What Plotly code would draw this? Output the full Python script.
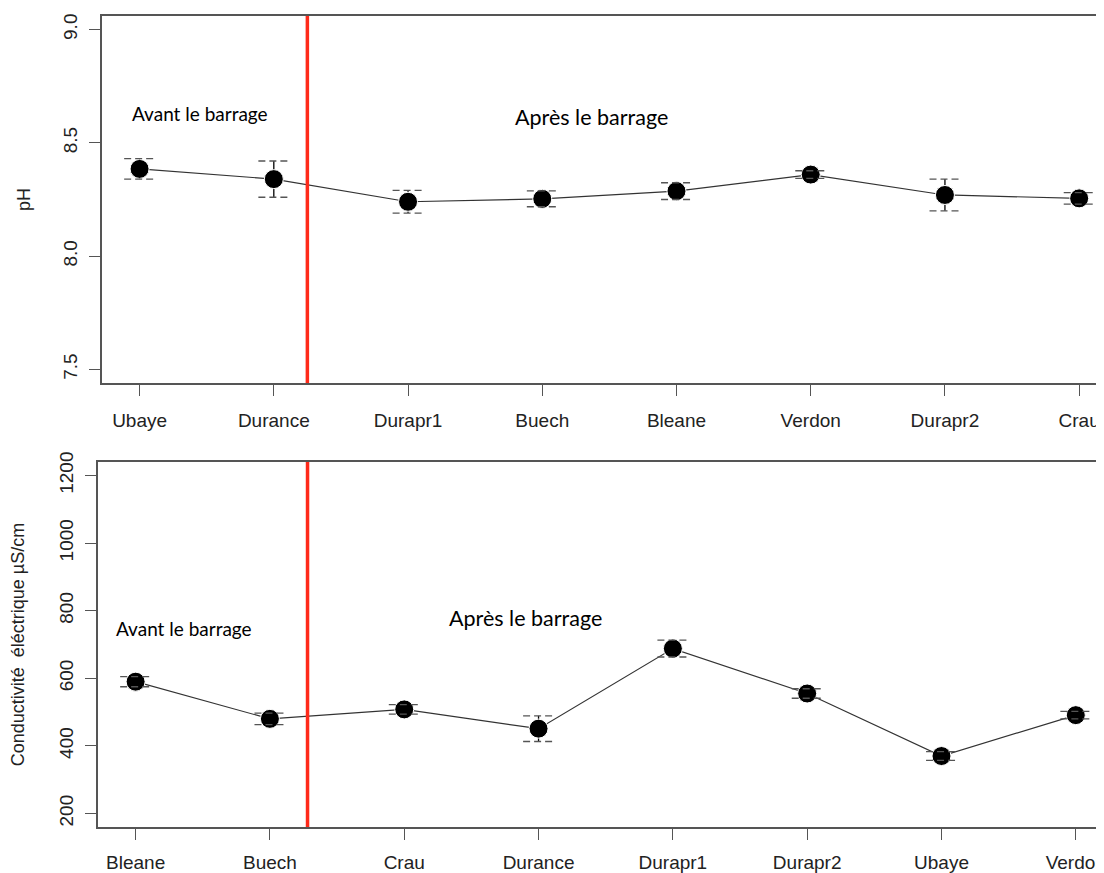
import plotly.graph_objects as go

# ---- data ----
ph_sites = ["Ubaye", "Durance", "Durapr1", "Buech", "Bleane", "Verdon", "Durapr2", "Crau"]
ph_mean = [8.385, 8.34, 8.24, 8.253, 8.287, 8.36, 8.27, 8.255]
ph_err = [0.045, 0.08, 0.05, 0.035, 0.037, 0.017, 0.07, 0.025]

ce_sites = ["Bleane", "Buech", "Crau", "Durance", "Durapr1", "Durapr2", "Ubaye", "Verdon"]
ce_mean = [590, 480, 508, 451, 688, 555, 370, 491]
ce_err = [15, 17, 14, 38, 25, 14, 13, 11]

ph_ticks = [7.5, 8.0, 8.5, 9.0]
ce_ticks = [200, 400, 600, 800, 1000, 1200]

dam_pos_ph = 2.25
dam_pos_ce = 2.28
label_before = "Avant le barrage"
label_after = "Après le barrage"

# page body has an 8px margin: build figure in page coords minus 8
W, H = 1096, 865
OFF = 8

AX = "#555555"
TICKFONT = dict(family="Liberation Sans, Arial", size=19, color="#222")
TITLEFONT = dict(family="Liberation Sans, Arial", size=18, color="#222")

fig = go.Figure()


def add_panel(sites, mean, err, xa, ya):
    xs = list(range(1, len(sites) + 1))
    fig.add_trace(go.Scatter(
        x=xs, y=mean, mode="lines+markers", xaxis=xa, yaxis=ya,
        line=dict(color="#333333", width=1.2),
        marker=dict(color="black", size=19, line=dict(color="white", width=1)),
        error_y=dict(type="data", array=err, visible=True, color="black",
                     thickness=1.3, width=0),
        showlegend=False, hoverinfo="skip"))
    cx, cy = [], []
    hw = 0.115
    for x, m, e in zip(xs, mean, err):
        for v in (m - e, m + e):
            cx += [x - hw, x + hw, None]
            cy += [v, v, None]
    fig.add_trace(go.Scatter(
        x=cx, y=cy, mode="lines", xaxis=xa, yaxis=ya,
        line=dict(color="#555555", width=1.3, dash="7px,4px"),
        showlegend=False, hoverinfo="skip"))


add_panel(ph_sites, ph_mean, ph_err, "x", "y")
add_panel(ce_sites, ce_mean, ce_err, "x2", "y2")


def ydom(top, bottom):
    return [1 - (bottom - OFF) / H, 1 - (top - OFF) / H]


common_x = dict(showline=True, linecolor=AX, linewidth=1.5, mirror=True,
                ticks="outside", ticklen=11, tickcolor=AX, tickwidth=1.3,
                showgrid=False, zeroline=False, tickfont=TICKFONT,
                automargin=False, tickmode="array", ticklabeloverflow="allow",
                tickvals=list(range(1, 9)))
common_y = dict(showline=True, linecolor=AX, linewidth=1.5, tickangle=-90,
                ticks="outside", ticklen=11, tickcolor=AX, tickwidth=1.3,
                showgrid=False, zeroline=False, tickfont=TICKFONT,
                ticklabelstandoff=5, automargin=False, tickmode="array")

fig.update_layout(
    width=W, height=H,
    margin=dict(l=0, r=0, t=0, b=0),
    paper_bgcolor="white", plot_bgcolor="white",
    xaxis=dict(domain=[(102 - OFF) / W, 1], anchor="y", range=[0.72, 8.185],
               ticktext=ph_sites, ticklabelstandoff=8, **common_x),
    yaxis=dict(domain=ydom(16, 383), anchor="x", range=[7.44, 9.06],
               tickvals=ph_ticks, ticktext=["7.5", "8.0", "8.5", "9.0"],
               title=dict(text="pH", font=TITLEFONT, standoff=24), **common_y),
    xaxis2=dict(domain=[(98 - OFF) / W, 1], anchor="y2", range=[0.72, 8.21],
                ticktext=ce_sites, ticklabelstandoff=6, **common_x),
    yaxis2=dict(domain=ydom(462, 827), anchor="x2", range=[160, 1240],
                tickvals=ce_ticks, ticktext=[str(t) for t in ce_ticks],
                title=dict(text="Conductivité  éléctrique µS/cm", font=TITLEFONT, standoff=26),
                **common_y),
)

fig.add_shape(type="line", xref="x", yref="y domain", x0=dam_pos_ph, x1=dam_pos_ph,
              y0=0, y1=1, line=dict(color="#ff2a1a", width=3.5))
fig.add_shape(type="line", xref="x2", yref="y2 domain", x0=dam_pos_ce, x1=dam_pos_ce,
              y0=0, y1=1, line=dict(color="#ff2a1a", width=3.5))

ANN = "Lato, Open Sans, sans-serif"
fig.add_annotation(x=1.447, y=8.63, xref="x", yref="y", text=label_before, showarrow=False,
                   font=dict(family=ANN, size=19, color="black"))
fig.add_annotation(x=4.37, y=8.616, xref="x", yref="y", text=label_after, showarrow=False,
                   font=dict(family=ANN, size=21.5, color="black"))
fig.add_annotation(x=1.36, y=747, xref="x2", yref="y2", text=label_before, showarrow=False,
                   font=dict(family=ANN, size=19, color="black"))
fig.add_annotation(x=3.90, y=777, xref="x2", yref="y2", text=label_after, showarrow=False,
                   font=dict(family=ANN, size=21.5, color="black"))

fig.write_html("out.html")
